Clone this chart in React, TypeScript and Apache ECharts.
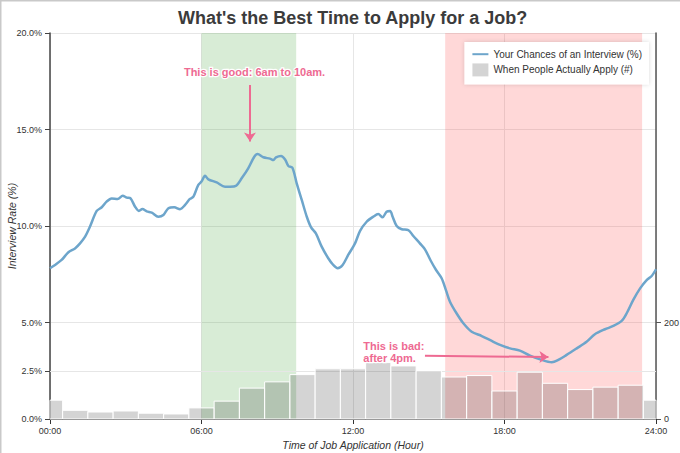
import React, { useEffect, useRef } from "react";
import * as echarts from "echarts";

const lineHours = [0, 0.2, 0.46, 0.73, 0.99, 1.19, 1.39, 1.58, 1.85, 2.05, 2.24, 2.44, 2.68, 2.88, 3.04, 3.19, 3.37, 3.52, 3.66, 3.83, 4.03, 4.29, 4.49, 4.69, 4.92, 5.15, 5.35, 5.54, 5.68, 5.87, 6.0, 6.14, 6.27, 6.6, 6.93, 7.13, 7.37, 7.59, 7.85, 8.09, 8.22, 8.45, 8.71, 8.85, 8.95, 9.15, 9.31, 9.44, 9.6, 9.77, 9.97, 10.17, 10.34, 10.53, 10.76, 11.02, 11.22, 11.39, 11.59, 11.81, 12.08, 12.28, 12.54, 12.8, 13.0, 13.17, 13.33, 13.47, 13.57, 13.73, 13.93, 14.19, 14.39, 14.65, 14.85, 15.08, 15.29, 15.51, 15.68, 15.84, 16.1, 16.37, 16.7, 17.1, 17.56, 17.85, 18.22, 18.61, 19.01, 19.41, 19.87, 20.13, 20.46, 20.86, 21.25, 21.58, 21.98, 22.31, 22.64, 22.84, 23.1, 23.37, 23.63, 23.83, 24.0];
const interviewRates = [7.81, 7.98, 8.24, 8.64, 8.84, 9.1, 9.45, 9.96, 10.78, 10.97, 11.26, 11.43, 11.4, 11.57, 11.47, 11.43, 11.0, 10.78, 10.88, 10.76, 10.69, 10.48, 10.57, 10.92, 10.97, 10.87, 11.09, 11.4, 11.52, 12.12, 12.3, 12.6, 12.42, 12.26, 12.04, 12.04, 12.09, 12.47, 12.99, 13.59, 13.73, 13.56, 13.49, 13.42, 13.56, 13.63, 13.45, 13.11, 13.02, 12.21, 11.35, 10.48, 9.93, 9.62, 8.93, 8.33, 7.98, 7.81, 7.98, 8.5, 9.1, 9.75, 10.22, 10.48, 10.62, 10.45, 10.74, 10.78, 10.48, 10.0, 9.83, 9.79, 9.48, 9.1, 8.79, 8.2, 7.72, 7.29, 6.68, 6.08, 5.48, 4.96, 4.52, 4.3, 4.0, 3.83, 3.66, 3.54, 3.28, 3.09, 2.94, 3.06, 3.32, 3.66, 4.0, 4.39, 4.65, 4.82, 5.08, 5.48, 6.17, 6.77, 7.2, 7.41, 7.76];

const barHours = [0, 1, 2, 3, 4, 5, 6, 7, 8, 9, 10, 11, 12, 13, 14, 15, 16, 17, 18, 19, 20, 21, 22, 23, 24];
const applyCounts = [39, 18, 14.5, 16.6, 12, 10.4, 23, 37, 64, 77, 92, 104, 104, 117, 110, 99.5, 87, 90, 58, 97, 74, 61, 66, 70, 39];

const xLabelValues = [0, 6, 12, 18, 24];
const yLabelValues = [0, 2.5, 5, 10, 15, 20];
const rightLabelValues = [0, 200];

const goodBand = [6, 9.75];
const badBand = [15.65, 23.45];

const goodText = "This is good: 6am to 10am.";
const badText = "This is bad:\nafter 4pm.";
const goodTextPos = [8.1, 17.98];
const badTextPos = [12.41, 3.47];
const goodArrow = [[7.92, 17.3], [7.92, 14.38]];
const badArrow = [[14.85, 3.28], [19.74, 3.21]];

const X_MIN = 0;
const X_MAX = 24;
const BIN = 1;

const FONT = "'Liberation Sans', Arial, Helvetica, sans-serif";
const PINK = "#ee6a92";
const BAR_FILL = "rgba(0,0,0,0.17)";

export default function App() {
  const ref = useRef<HTMLDivElement>(null);
  useEffect(() => {
    if (!ref.current) return;
    const chart = echarts.init(ref.current, null, { renderer: "svg" });
    const lineData = lineHours.map((h, i) => [h, interviewRates[i]]);
    const barData = barHours.map((h, i) => [h, applyCounts[i]]);
    const pad = (v: number) => (v < 10 ? "0" + v : "" + v) + ":00";
    const textLabel = {
      show: true,
      color: PINK,
      fontFamily: FONT,
      fontSize: 11,
      fontWeight: "bold",
      textBorderColor: "#fff",
      textBorderWidth: 2.5,
    };
    chart.setOption({
      animation: false,
      textStyle: { fontFamily: FONT },
      title: {
        text: "What's the Best Time to Apply for a Job?",
        left: 178,
        top: 9,
        padding: 0,
        textStyle: { fontFamily: FONT, fontSize: 18, fontWeight: "bold", color: "#3b3b3b" },
      },
      legend: {
        orient: "vertical",
        right: 31,
        top: 42,
        itemWidth: 16,
        itemHeight: 13,
        itemGap: 4,
        padding: [7, 7, 8, 7],
        backgroundColor: "#fff",
        shadowBlur: 4,
        shadowColor: "rgba(0,0,0,0.15)",
        textStyle: { fontFamily: FONT, fontSize: 10, color: "#333" },
        data: [
          {
            name: "Your Chances of an Interview (%)",
            itemStyle: { opacity: 0 },
            lineStyle: { width: 2, color: "#6da5cb" },
          },
          { name: "When People Actually Apply (#)", icon: "rect", itemStyle: { color: BAR_FILL } },
        ],
      },
      graphic: [
        {
          type: "polyline",
          silent: true,
          shape: { points: [[0.75, 453], [0.75, 0.75], [680, 0.75]] },
          style: { stroke: "#c9c9c9", lineWidth: 1.5, fill: "none" },
        },
      ],
      grid: { left: 50, right: 24, top: 33, bottom: 34, containLabel: false, outerBoundsMode: "none" },
      xAxis: {
        type: "value",
        min: X_MIN,
        max: X_MAX,
        interval: 3,
        name: "Time of Job Application (Hour)",
        nameLocation: "middle",
        nameGap: 18,
        nameTextStyle: { fontFamily: FONT, fontSize: 10.5, fontStyle: "italic", color: "#333" },
        axisLine: { show: true, onZero: false, lineStyle: { color: "#333", width: 1 } },
        axisTick: { show: true, length: 5, customValues: xLabelValues, lineStyle: { color: "#333" } },
        axisLabel: {
          customValues: xLabelValues,
          margin: 7,
          fontFamily: FONT,
          fontSize: 9,
          color: "#333",
          formatter: (v: number) => pad(v),
        },
        splitLine: { show: true, lineStyle: { color: "#e6e6e6", width: 1 } },
      },
      yAxis: [
        {
          type: "value",
          min: 0,
          max: 20,
          interval: 5,
          name: "Interview Rate (%)",
          nameLocation: "middle",
          nameGap: 33,
          nameMoveOverlap: false,
          nameTextStyle: { fontFamily: FONT, fontSize: 10.5, fontStyle: "italic", color: "#333" },
          axisLine: { show: true, lineStyle: { color: "#444", width: 1.5 } },
          axisTick: { show: true, length: 5, customValues: yLabelValues, lineStyle: { color: "#444" } },
          axisLabel: {
            customValues: yLabelValues,
            margin: 8,
            fontFamily: FONT,
            fontSize: 9,
            color: "#333",
            formatter: (v: number) => v.toFixed(1) + "%",
          },
          splitLine: { show: true, lineStyle: { color: "#e6e6e6", width: 1 } },
        },
        {
          type: "value",
          min: 0,
          max: 800,
          interval: 200,
          position: "right",
          axisLine: { show: true, lineStyle: { color: "#555", width: 1.5 } },
          axisTick: { show: true, length: 5, customValues: rightLabelValues, lineStyle: { color: "#555" } },
          axisLabel: {
            customValues: rightLabelValues,
            margin: 8,
            fontFamily: FONT,
            fontSize: 9,
            color: "#333",
          },
          splitLine: { show: false },
        },
      ],
      series: [
        {
          name: "Your Chances of an Interview (%)",
          type: "line",
          yAxisIndex: 0,
          z: 4,
          data: lineData,
          smooth: 0.3,
          symbol: "none",
          showSymbol: false,
          color: "#6da5cb",
          lineStyle: { color: "#6da5cb", width: 2.5 },
          markArea: {
            silent: true,
            z: 1,
            data: [
              [{ xAxis: goodBand[0], itemStyle: { color: "rgba(60,160,50,0.2)" } }, { xAxis: goodBand[1] }],
              [{ xAxis: badBand[0], itemStyle: { color: "rgba(255,60,60,0.2)" } }, { xAxis: badBand[1] }],
            ],
          },
          markLine: {
            silent: true,
            symbol: ["none", "arrow"],
            symbolSize: 9,
            lineStyle: { color: PINK, width: 2, type: "solid" },
            label: { show: false },
            data: [
              [{ coord: goodArrow[0] }, { coord: goodArrow[1] }],
              [{ coord: badArrow[0] }, { coord: badArrow[1] }],
            ],
          },
          markPoint: {
            silent: true,
            symbol: "circle",
            symbolSize: 0,
            data: [
              {
                coord: goodTextPos,
                label: { ...textLabel, position: "inside", align: "center", verticalAlign: "middle", formatter: goodText },
              },
              {
                coord: badTextPos,
                label: {
                  ...textLabel,
                  position: "inside",
                  align: "left",
                  verticalAlign: "middle",
                  lineHeight: 12,
                  formatter: badText,
                },
              },
            ],
          },
        },
        {
          name: "When People Actually Apply (#)",
          type: "custom",
          yAxisIndex: 1,
          z: 2,
          data: barData,
          encode: { x: 0, y: 1 },
          itemStyle: { color: BAR_FILL },
          renderItem: (params: any, api: any) => {
            const h = api.value(0);
            const c = api.value(1);
            const tl = api.coord([Math.max(h - BIN / 2, X_MIN), c]);
            const br = api.coord([Math.min(h + BIN / 2, X_MAX), 0]);
            return {
              type: "rect",
              shape: { x: tl[0], y: tl[1], width: br[0] - tl[0], height: br[1] - tl[1] },
              style: { fill: BAR_FILL, stroke: "#fff", lineWidth: 1 },
            };
          },
          markLine: {
            silent: true,
            z: 1,
            symbol: ["none", "none"],
            label: { show: false },
            lineStyle: { color: "#e6e6e6", width: 1, type: "solid" },
            data: [{ yAxis: 100 }],
          },
        },
      ],
    });
    return () => chart.dispose();
  }, []);
  return (
    <div
      ref={ref}
      style={{ position: "absolute", left: 0, top: 0, width: 680, height: 453, background: "#fff" }}
    />
  );
}
